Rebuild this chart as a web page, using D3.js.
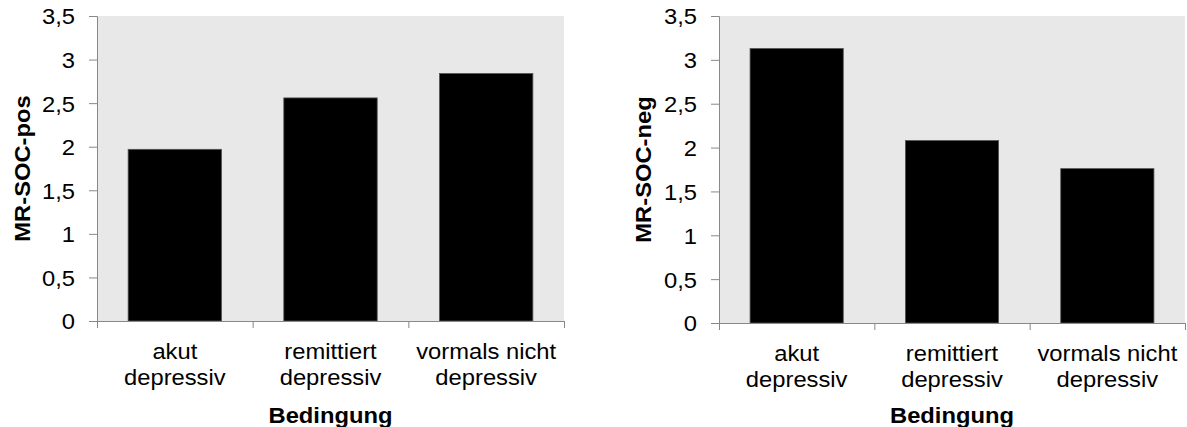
<!DOCTYPE html>
<html>
<head>
<meta charset="utf-8">
<script src="https://cdn.jsdelivr.net/npm/d3@7/dist/d3.min.js"></script>
<style>
  html, body { margin: 0; padding: 0; background: #ffffff; }
  svg { display: block; }
  text { font-family: "Liberation Sans", Arial, sans-serif; fill: #000; }
</style>
</head>
<body>
<svg id="chart" width="1187" height="427"></svg>
<script>
// ---- data ----
const categories = [["akut", "depressiv"], ["remittiert", "depressiv"], ["vormals nicht", "depressiv"]];
const posValues = [1.97, 2.56, 2.84];
const negValues = [3.13, 2.08, 1.76];
const yTicks = [0, 0.5, 1, 1.5, 2, 2.5, 3, 3.5];
const yTitles = ["MR-SOC-pos", "MR-SOC-neg"];
const xTitle = "Bedingung";

const svg = d3.select("#chart");
const fmt = v => d3.format("")(v).replace(".", ",");
const FS = 22;
const SX = 1.08;

function panel(values, yTitle, box) {
  const g = svg.append("g");
  const x = d3.scaleBand().domain(d3.range(categories.length))
    .range([box.x0, box.x1]).paddingInner(0.4).paddingOuter(0.2);
  const y = d3.scaleLinear().domain([0, 3.5]).range([box.y1, box.y0]);

  // plot background
  g.append("rect").attr("x", box.x0).attr("y", box.y0)
    .attr("width", box.x1 - box.x0).attr("height", box.y1 - box.y0)
    .attr("fill", "#e8e8e8");

  // bars
  g.selectAll("rect.bar").data(values).join("rect").attr("class", "bar")
    .attr("x", (d, i) => x(i)).attr("width", x.bandwidth())
    .attr("y", d => y(d)).attr("height", d => y(0) - y(d))
    .attr("fill", "#000").attr("stroke", "#555").attr("stroke-width", 0.8);

  // y axis
  const ya = g.append("g").attr("transform", `translate(${box.x0},0)`)
    .call(d3.axisLeft(y).tickValues(yTicks).tickSize(8).tickPadding(4).tickFormat(() => ""));
  ya.select(".domain").attr("stroke", "#888").attr("d", `M-8,${box.y0 + 0.5}H0.5V${box.y1}`);
  ya.selectAll(".tick line").attr("stroke", "#888");
  ya.selectAll(".tick").each(function(d) {
    d3.select(this).append("g")
      .attr("transform", `translate(${-box.lblGap},0) scale(${SX},1)`)
      .append("text").attr("text-anchor", "end").attr("dy", "0.36em")
      .style("font-size", FS + "px").text(fmt(d));
  });

  // x axis
  const step = x.step();
  const start = box.x0;
  const xa = g.append("g");
  xa.append("line").attr("x1", box.x0).attr("x2", box.x1)
    .attr("y1", box.y1 + 0.5).attr("y2", box.y1 + 0.5).attr("stroke", "#888");
  xa.selectAll("line.tk").data(d3.range(categories.length + 1)).join("line").attr("class", "tk")
    .attr("x1", i => start + i * step + 0.5).attr("x2", i => start + i * step + 0.5)
    .attr("y1", box.y1).attr("y2", box.y1 + 7).attr("stroke", "#888");

  categories.forEach((lines, i) => {
    const cx = x(i) + x.bandwidth() / 2;
    lines.forEach((ln, j) => {
      g.append("g").attr("transform", `translate(${cx},${box.y1 + 37.5 + j * 26.5}) scale(${SX},1)`)
        .append("text").attr("text-anchor", "middle").style("font-size", FS + "px").text(ln);
    });
  });

  // titles
  g.append("g").attr("transform", `translate(${(box.x0 + box.x1) / 2},${box.tY}) scale(${SX},1)`)
    .append("text").attr("text-anchor", "middle").style("font-size", FS + "px")
    .style("font-weight", "bold").text(xTitle);
  g.append("g").attr("transform", `translate(${box.yTX},${(box.y0 + box.y1) / 2}) rotate(-90) scale(${SX},1)`)
    .append("text").attr("text-anchor", "middle").attr("dy", "0.36em").style("font-size", FS + "px")
    .style("font-weight", "bold").text(yTitle);
}

panel(posValues, yTitles[0], { x0: 97, x1: 564, y0: 16, y1: 321, lblGap: 22, tY: 423, yTX: 22 });
panel(negValues, yTitles[1], { x0: 719, x1: 1185, y0: 16, y1: 323, lblGap: 22, tY: 423, yTX: 643 });
</script>
</body>
</html>
